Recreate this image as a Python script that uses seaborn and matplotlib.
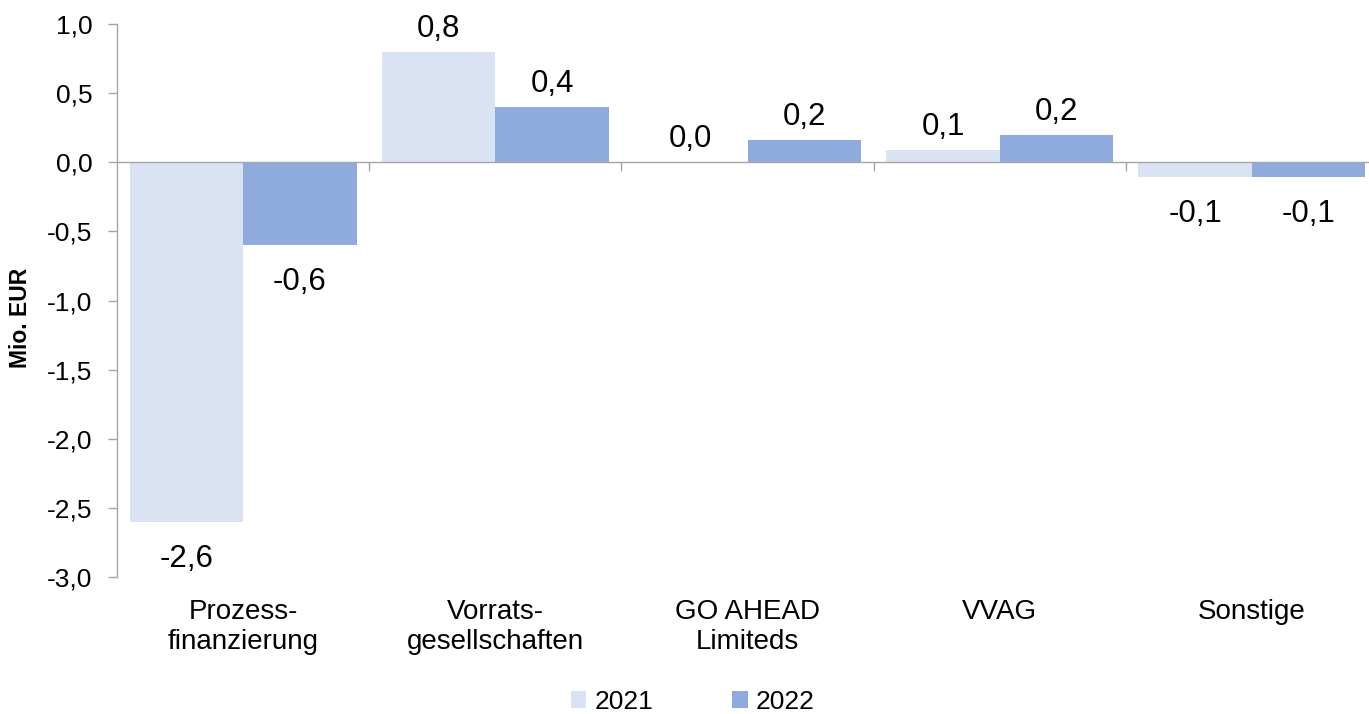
import numpy as np
import pandas as pd
import matplotlib
matplotlib.use("Agg")
import matplotlib.pyplot as plt
from matplotlib.patches import Patch
from matplotlib.ticker import FuncFormatter
import seaborn as sns

# data
categories = ["Prozess-\nfinanzierung", "Vorrats-\ngesellschaften", "GO AHEAD\nLimiteds", "VVAG", "Sonstige"]
years = ["2021", "2022"]
values_2021 = [-2.6, 0.8, 0.0, 0.09, -0.11]
values_2022 = [-0.6, 0.4, 0.16, 0.2, -0.11]
colors = ["#DAE3F3", "#8FAADC"]

df = pd.DataFrame({
    "category": categories * 2,
    "year": [years[0]] * len(categories) + [years[1]] * len(categories),
    "value": values_2021 + values_2022,
})

sns.set_theme(style="white")
plt.rcParams["font.family"] = ["Liberation Sans", "DejaVu Sans"]
plt.rcParams["text.color"] = "black"

W, H = 1369, 714
fig = plt.figure(figsize=(W / 100, H / 100), dpi=100)
ax = fig.add_axes([117 / W, 1 - 577 / H, (1378 - 117) / W, (577 - 24) / H])

sns.barplot(data=df, x="category", y="value", hue="year", palette=colors,
            width=0.9, gap=0, saturation=1, linewidth=0, legend=False, ax=ax)

ax.set_xlim(-0.5, len(categories) - 0.5)
ax.set_ylim(-3, 1)
ax.set_yticks(np.arange(-3, 1.01, 0.5))
ax.yaxis.set_major_formatter(FuncFormatter(lambda v, p: f"{v:.1f}".replace(".", ",")))

grey = "#A6A6A6"
for s in ["top", "right"]:
    ax.spines[s].set_visible(False)
ax.spines["left"].set_color(grey)
ax.spines["bottom"].set_color(grey)
ax.spines["bottom"].set_position(("data", 0))
ax.spines["left"].set_linewidth(1.0)
ax.spines["bottom"].set_linewidth(1.0)

# ticks on the zero line between the groups
ax.set_xticks(np.arange(0.5, len(categories) - 0.5, 1.0))
ax.set_xticklabels([])
ax.tick_params(axis="x", bottom=True, direction="out", length=6.5, width=1, color=grey)
ax.tick_params(axis="y", left=True, direction="out", length=6.5, width=1, color=grey,
               pad=11, labelsize=19, labelcolor="black")
ax.set_xlabel("")

# category labels below the plot area
sec = ax.secondary_xaxis("bottom")
sec.set_xticks(range(len(categories)), categories, linespacing=1.2)
sec.tick_params(length=0, pad=16, labelsize=20, labelcolor="black")
sec.spines["bottom"].set_visible(False)

ax.set_ylabel("Mio. EUR", fontsize=16.5, fontweight="bold", color="black")
ax.yaxis.set_label_coords(-0.0674, 0.468)

# value labels
for cont, vals in zip(ax.containers, [values_2021, values_2022]):
    for bar, v in zip(cont, vals):
        x = bar.get_x() + bar.get_width() / 2
        txt = f"{v:.1f}".replace(".", ",")
        off = (0, 15) if v >= 0 else (0, -45)
        ax.annotate(txt, (x, v), xytext=off, textcoords="offset pixels",
                    ha="center", va="baseline", fontsize=22.5, color="black")

handles = [Patch(facecolor=c, edgecolor="none") for c in colors]
fig.legend(handles, years, loc="center", bbox_to_anchor=(0.506, 1 - 702 / H), ncol=2,
           frameon=False, fontsize=19, labelcolor="black", handlelength=0.6,
           handleheight=0.6, handletextpad=0.3, columnspacing=3.0)

fig.savefig("out.png", dpi=100)
